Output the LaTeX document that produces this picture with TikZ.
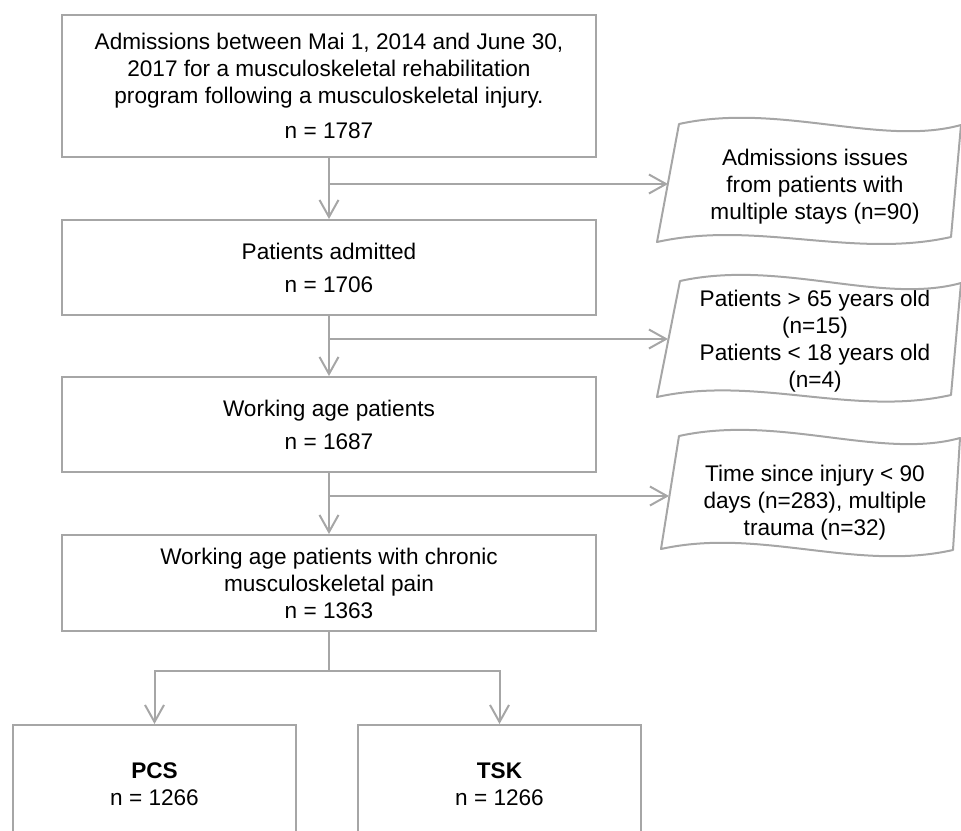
\documentclass[tikz,border=0pt]{standalone}
\usepackage{fontspec}
\setmainfont{Liberation Sans}
\usetikzlibrary{arrows.meta,positioning}

\begin{document}
\begin{tikzpicture}[
    x=1pt, y=-1pt,
    node distance=61pt,
    box/.style={rectangle, draw=gray!70, line width=2pt, minimum width=534pt, align=center, font=\fontsize{22.6}{27}\selectfont},
    grpbox/.style={box, minimum width=283pt, minimum height=118pt},
    excl/.style={align=center, inner sep=0pt, font=\fontsize{22.6}{27}\selectfont},
    exclbox/.style={draw=gray!70, line width=2pt, line join=round},
    conn/.style={draw=gray!70, line width=2pt},
    arrow/.style={conn, -{Straight Barb[length=17pt, width=19pt]}}
]
\useasboundingbox (0,0) rectangle (961,830);
\clip (0,0) rectangle (961,830);

% Main flow
\node[box, minimum height=142pt] (admis) at (329,86) {Admissions between Mai 1, 2014 and June 30,\\2017 for a musculoskeletal rehabilitation\\program following a musculoskeletal injury.\\[8pt]n = 1787};
\node[box, minimum height=95pt, below=of admis] (admit) {Patients admitted\\[6pt]n = 1706};
\node[box, minimum height=95pt, below=60pt of admit] (workage) {Working age patients\\[6pt]n = 1687};
\node[box, minimum height=96pt, below=of workage] (chronic) {Working age patients with chronic\\musculoskeletal pain\\n = 1363};

% Questionnaire groups
\node[grpbox, below=92pt of chronic, xshift=-174.5pt] (pcs) {\textbf{PCS}\\n = 1266};
\node[grpbox, right=60pt of pcs] (tsk) {\textbf{TSK}\\n = 1266};

% Exclusions
\node[excl] (multi) at (815,187) {Admissions issues\\from patients with\\multiple stays (n=90)};
\draw[exclbox] (679,124) .. controls +(100,-22) and +(-80,22) .. (961,125) -- (951,237) .. controls +(-98,22) and +(99,-22) .. (657,242) -- cycle;
\node[excl] (age) at (815,341) {Patients > 65 years old\\(n=15)\\Patients < 18 years old\\(n=4)};
\draw[exclbox] (680,281) .. controls +(100,-22) and +(-80,22) .. (961,283) -- (951,395) .. controls +(-98,22) and +(99,-22) .. (657,397) -- cycle;
\node[excl] (injury) at (815,503) {Time since injury < 90\\days (n=283), multiple\\trauma (n=32)};
\draw[exclbox] (679,436) .. controls +(100,-22) and +(-80,22) .. (960,438) -- (953,550) .. controls +(-98,22) and +(99,-22) .. (661,549) -- cycle;

\coordinate (multiin) at (668,184);
\coordinate (agein) at (668,339);
\coordinate (injin) at (669,496);
\coordinate (split) at (329,671);

% Connectors
\draw[arrow] (admis) -- (admit);
\draw[arrow] (admis.south |- multiin) -- (multiin);
\draw[arrow] (admit) -- (workage);
\draw[arrow] (admit.south |- agein) -- (agein);
\draw[arrow] (workage) -- (chronic);
\draw[arrow] (workage.south |- injin) -- (injin);
\draw[conn] (chronic) -- (split);
\draw[arrow] (split) -| (pcs);
\draw[arrow] (split) -| (tsk);

\end{tikzpicture}
\end{document}
